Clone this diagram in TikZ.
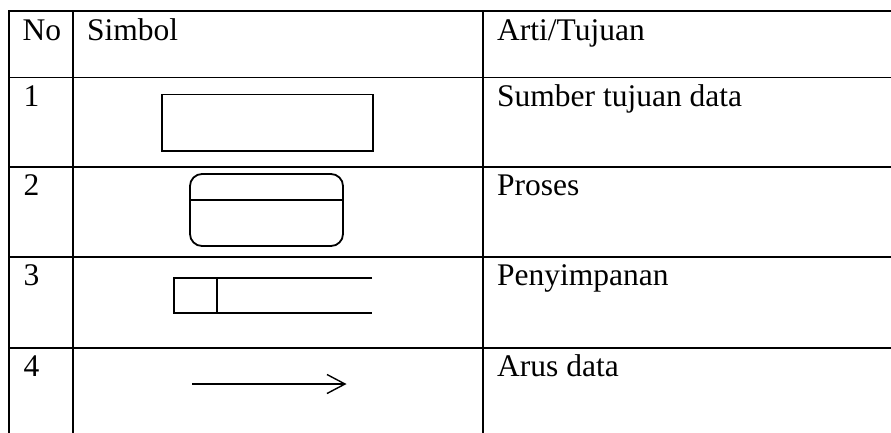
\documentclass[tikz,border=0pt]{standalone}
\usepackage{fontspec}
\setmainfont{Liberation Serif}
\begin{document}
\begin{tikzpicture}[x=1pt,y=-1pt,
  grid/.style={line width=1.8pt},
  sym/.style={line width=1.8pt},
  thin/.style={line width=1.4pt},
  txt/.style={anchor=base west,inner sep=0pt,font=\fontsize{31.5}{36}\selectfont}]
\useasboundingbox (0,0) rectangle (891,432);
% table grid
\foreach \y in {11,77.5,167,257,348} \draw[grid] (8.1,\y) -- (892,\y);
\foreach \x in {9,73,483} \draw[grid] (\x,10.1) -- (\x,433);
% header
\node[txt] (hno) at (22.5,40) {No};
\node[txt] (hsym) at (87,40) {Simbol};
\node[txt] (hart) at (497,40) {Arti/Tujuan};
% rows
\node[txt] (n1) at (23.5,106) {1};
\node[txt] (n2) at (23.5,195.5) {2};
\node[txt] (n3) at (23.5,285.5) {3};
\node[txt] (n4) at (23.5,376.5) {4};
\node[txt] (t1) at (497,106) {Sumber tujuan data};
\node[txt] (t2) at (497,195.5) {Proses};
\node[txt] (t3) at (497,285.5) {Penyimpanan};
\node[txt] (t4) at (497,376.5) {Arus data};
% symbol 1: external entity
\draw[sym] (162,94.5) rectangle (373,151);
% symbol 2: process
\draw[sym,rounded corners=12pt] (190,174) rectangle (343,246);
\draw[sym] (190,200) -- (343,200);
% symbol 3: data store
\draw[thin] (372,278) -- (174,278) -- (174,313) -- (372,313);
\draw[thin] (217,278) -- (217,313);
% symbol 4: data flow
\coordinate (a0) at (192,384);
\coordinate (a1) at (345,384);
\draw[thin] (a0) -- (a1);
\draw[thin,line join=miter] ([xshift=-18pt,yshift=-9.5pt]a1) -- (a1) -- ([xshift=-18pt,yshift=9.5pt]a1);
\end{tikzpicture}
\end{document}
